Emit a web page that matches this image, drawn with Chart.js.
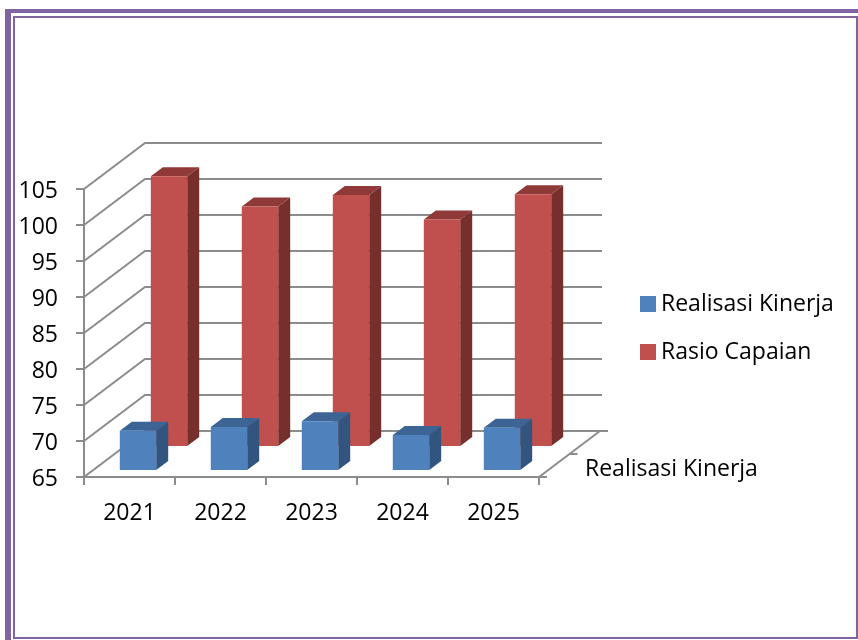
<!DOCTYPE html>
<html lang="en">
<head>
    <meta charset="UTF-8">
    <title>Realisasi Kinerja</title>
    <style>
        html, body { margin: 0; padding: 0; background: #fff; overflow: hidden; }
        #wrap { position: relative; width: 858px; height: 640px; overflow: hidden; }
        #chart { position: absolute; left: 0; top: 0; }
        .outer { position: absolute; left: 5px; top: 9px; right: 0; bottom: 0; border-left: 6px solid #8064a2; border-top: 4px solid #8064a2; }
        .inner { position: absolute; left: 13px; top: 16px; width: 841px; height: 619px; border: 2px solid #8064a2; }
        #legend { position: absolute; left: 640px; top: 287px; font: 23px/30px "Open Sans", sans-serif; color: #000; white-space: nowrap; }
        #legend div { height: 30px; margin-bottom: 18px; }
        #legend i { display: inline-block; width: 16px; height: 16px; margin-right: 5px; vertical-align: -1px; }
    </style>
</head>
<body>
<div id="wrap">
    <div class="outer"></div>
    <div class="inner"></div>
    <canvas id="chart" width="858" height="640"></canvas>
    <div id="legend"></div>
</div>
<script src="https://cdn.jsdelivr.net/npm/chart.js"></script>
<script>
    var categories = ['2021', '2022', '2023', '2024', '2025'];
    var realisasi = [70.6, 71.1, 71.9, 70, 71];
    var rasio = [102.6, 98.4, 100, 96.6, 100.1];
    var seriesNames = ['Realisasi Kinerja', 'Rasio Capaian'];
    var depthLabel = 'Realisasi Kinerja';
    var yMin = 65, yMax = 105, yStep = 5;

    var FONT = '"Open Sans", sans-serif';
    var FONT_SIZE = 23;
    var LINE = '#8c8c8c';

    // 3d look: how far the back wall sits behind the front plane
    var wallDx = 61, wallDy = 46;
    var barDx = 12, barDy = 9;

    var box3d = {
        id: 'box3d',
        beforeDatasetsDraw: function(chart) {
            var c = chart.ctx, a = chart.chartArea, y = chart.scales.y;
            c.save();
            c.strokeStyle = LINE;
            c.lineWidth = 2;
            y.ticks.forEach(function(t, i) {
                var py = y.getPixelForTick(i);
                c.beginPath();
                c.moveTo(a.left, py);
                c.lineTo(a.left + wallDx, py - wallDy);
                c.lineTo(a.right + wallDx + 2, py - wallDy);
                c.stroke();
            });
            // right edge of the floor with its depth ticks
            c.beginPath();
            c.moveTo(a.right, a.bottom);
            c.lineTo(a.right + wallDx, a.bottom - wallDy);
            c.moveTo(a.right, a.bottom);
            c.lineTo(a.right + 8, a.bottom);
            c.moveTo(a.right + wallDx, a.bottom - wallDy);
            c.lineTo(a.right + wallDx + 8, a.bottom - wallDy);
            c.moveTo(a.right + wallDx / 2, a.bottom - wallDy / 2);
            c.lineTo(a.right + wallDx / 2 + 8, a.bottom - wallDy / 2);
            c.stroke();
            c.fillStyle = '#000';
            c.font = FONT_SIZE + 'px ' + FONT;
            c.textBaseline = 'middle';
            c.fillText(depthLabel, a.right + 46, a.bottom - 8);
            c.restore();
        },
        beforeDatasetDraw: function(chart, args) {
            var c = chart.ctx, ds = chart.data.datasets[args.index];
            c.save();
            c.translate(ds.shiftX, ds.shiftY);
            args.meta.data.forEach(function(bar) {
                var l = bar.x - bar.width / 2, r = bar.x + bar.width / 2;
                c.fillStyle = ds.sideColor;
                c.beginPath();
                c.moveTo(r, bar.y);
                c.lineTo(r + barDx, bar.y - barDy);
                c.lineTo(r + barDx, bar.base - barDy);
                c.lineTo(r, bar.base);
                c.closePath();
                c.fill();
                c.fillStyle = ds.topColor;
                c.beginPath();
                c.moveTo(l, bar.y);
                c.lineTo(l + barDx, bar.y - barDy);
                c.lineTo(r + barDx, bar.y - barDy);
                c.lineTo(r, bar.y);
                c.closePath();
                c.fill();
            });
        },
        afterDatasetDraw: function(chart) {
            chart.ctx.restore();
        }
    };

    var chart = new Chart(document.getElementById('chart').getContext('2d'), {
        type: 'bar',
        data: {
            labels: categories,
            datasets: [
                { label: seriesNames[0], data: realisasi, base: yMin, backgroundColor: '#4f81bd', sideColor: '#32557f', topColor: '#3c6494', shiftX: 8.5, shiftY: -6, clip: false },
                { label: seriesNames[1], data: rasio, base: yMin, backgroundColor: '#c0504d', sideColor: '#772f2e', topColor: '#8f3a38', shiftX: 39.5, shiftY: -30, clip: false }
            ]
        },
        options: {
            responsive: false,
            animation: false,
            layout: { padding: { top: 189, right: 319, left: 0, bottom: 0 } },
            datasets: { bar: { grouped: false, barPercentage: 0.4, categoryPercentage: 1 } },
            scales: {
                x: {
                    afterFit: function(s) { s.height = 163; },
                    border: { color: LINE, width: 2 },
                    grid: { color: LINE, lineWidth: 2, drawOnChartArea: false, tickLength: 8, offset: true },
                    ticks: { color: '#000', font: { family: FONT, size: FONT_SIZE }, padding: 15, maxRotation: 0 }
                },
                y: {
                    min: yMin,
                    max: yMax,
                    afterFit: function(s) { s.width = 84; },
                    border: { color: LINE, width: 2 },
                    grid: { color: LINE, lineWidth: 2, drawOnChartArea: false, tickLength: 8 },
                    ticks: { stepSize: yStep, color: '#000', font: { family: FONT, size: FONT_SIZE }, padding: 18, labelOffset: 2 }
                }
            },
            plugins: {
                tooltip: { enabled: false },
                legend: { display: false }
            }
        },
        plugins: [box3d]
    });

    // html legend, built from the chart's own datasets
    chart.data.datasets.forEach(function(ds) {
        var row = document.createElement('div');
        var swatch = document.createElement('i');
        swatch.style.background = ds.backgroundColor;
        row.appendChild(swatch);
        row.appendChild(document.createTextNode(ds.label));
        document.getElementById('legend').appendChild(row);
    });
</script>
</body>
</html>
